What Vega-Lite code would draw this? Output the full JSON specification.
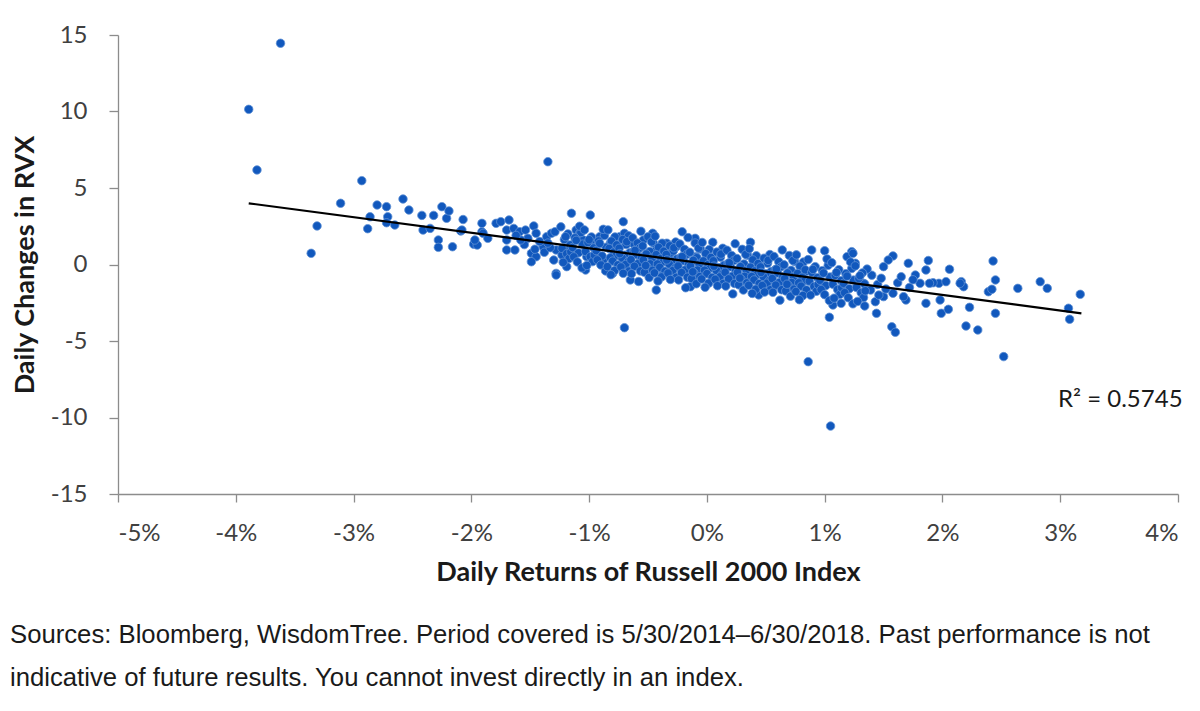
{
  "$schema": "https://vega.github.io/schema/vega-lite/v6.json",
  "width": 1060,
  "height": 459,
  "autosize": {"type": "none"},
  "padding": {"left": 118, "top": 35, "right": 22, "bottom": 217},
  "background": "white",
  "datasets": {
    "returns": [
      {"ret":-3.89,"chg":10.14},{"ret":-3.62,"chg":14.46},{"ret":-3.82,"chg":6.18},{"ret":-3.36,"chg":0.73},{"ret":-3.31,"chg":2.52},{"ret":-3.11,"chg":4.0},{"ret":-2.93,"chg":5.48},{"ret":-2.88,"chg":2.34},{"ret":-2.86,"chg":3.12},{"ret":-2.8,"chg":3.89},
      {"ret":-2.72,"chg":3.78},{"ret":-2.71,"chg":3.12},{"ret":-2.72,"chg":2.73},{"ret":-2.65,"chg":2.58},{"ret":-2.58,"chg":4.28},{"ret":-2.53,"chg":3.56},{"ret":-2.42,"chg":3.21},{"ret":-2.41,"chg":2.25},{"ret":-2.35,"chg":2.36},{"ret":-2.32,"chg":3.21},
      {"ret":-2.28,"chg":1.6},{"ret":-2.28,"chg":1.12},{"ret":-2.25,"chg":3.78},{"ret":-2.21,"chg":3.02},{"ret":-2.19,"chg":3.5},{"ret":-2.16,"chg":1.16},{"ret":-2.09,"chg":2.19},{"ret":-2.07,"chg":2.94},{"ret":-2.08,"chg":2.25},{"ret":-1.98,"chg":1.33},
      {"ret":-1.95,"chg":1.27},{"ret":-1.97,"chg":1.6},{"ret":-1.91,"chg":2.69},{"ret":-1.91,"chg":2.14},{"ret":-1.9,"chg":2.04},{"ret":-1.86,"chg":1.71},{"ret":-1.79,"chg":2.69},{"ret":-1.75,"chg":2.8},{"ret":-1.68,"chg":2.91},{"ret":-1.7,"chg":2.25},
      {"ret":-1.64,"chg":2.36},{"ret":-1.7,"chg":1.6},{"ret":-1.7,"chg":0.95},{"ret":-1.63,"chg":0.95},{"ret":-1.59,"chg":2.14},{"ret":-1.54,"chg":2.25},{"ret":-1.52,"chg":1.71},{"ret":-1.47,"chg":2.52},{"ret":-1.45,"chg":2.04},{"ret":-1.49,"chg":0.73},
      {"ret":-1.45,"chg":0.51},{"ret":-1.49,"chg":0.18},{"ret":-1.39,"chg":1.16},{"ret":-1.36,"chg":1.82},{"ret":-1.35,"chg":6.72},{"ret":-1.32,"chg":2.04},{"ret":-1.29,"chg":2.14},{"ret":-1.28,"chg":0.95},{"ret":-1.3,"chg":0.29},{"ret":-1.28,"chg":-0.58},
      {"ret":-1.28,"chg":-0.69},{"ret":-1.23,"chg":0.62},{"ret":-1.19,"chg":0.95},{"ret":-1.19,"chg":-0.14},{"ret":-1.15,"chg":3.35},{"ret":-1.11,"chg":2.25},{"ret":-1.08,"chg":2.04},{"ret":-1.05,"chg":1.6},{"ret":-1.03,"chg":-0.36},{"ret":-1.02,"chg":0.51},
      {"ret":-0.99,"chg":3.23},{"ret":-0.97,"chg":1.6},{"ret":-0.94,"chg":0.95},{"ret":-0.91,"chg":1.82},{"ret":-0.88,"chg":0.29},{"ret":-0.82,"chg":1.39},{"ret":-0.8,"chg":-0.58},{"ret":-0.77,"chg":0.95},{"ret":-0.74,"chg":1.82},{"ret":-0.71,"chg":2.8},
      {"ret":-0.7,"chg":2.04},{"ret":-0.7,"chg":-4.13},{"ret":-0.68,"chg":0.29},{"ret":-0.65,"chg":-1.01},{"ret":-0.63,"chg":1.39},{"ret":-0.6,"chg":0.95},{"ret":-0.57,"chg":0.51},{"ret":-0.54,"chg":1.6},{"ret":-0.51,"chg":-0.36},{"ret":-0.46,"chg":2.04},
      {"ret":-0.43,"chg":0.95},{"ret":-0.43,"chg":-1.67},{"ret":-0.37,"chg":-0.58},{"ret":-0.34,"chg":1.39},{"ret":-0.31,"chg":0.73},{"ret":-0.26,"chg":1.16},{"ret":-0.21,"chg":2.14},{"ret":-0.2,"chg":0.29},{"ret":-0.17,"chg":-0.58},{"ret":-0.14,"chg":-1.45},
      {"ret":-0.1,"chg":1.71},{"ret":-0.09,"chg":0.51},{"ret":-0.07,"chg":-0.8},{"ret":0.05,"chg":1.45},{"ret":0.37,"chg":1.45},{"ret":0.44,"chg":-1.99},{"ret":0.8,"chg":-2.1},{"ret":0.86,"chg":-6.35},{"ret":0.89,"chg":0.95},{"ret":1.0,"chg":0.9},
      {"ret":1.04,"chg":-3.45},{"ret":1.07,"chg":-2.65},{"ret":1.14,"chg":-2.54},{"ret":1.05,"chg":-10.56},{"ret":1.23,"chg":0.84},{"ret":1.19,"chg":0.51},{"ret":1.44,"chg":-3.19},{"ret":1.57,"chg":-4.07},{"ret":1.6,"chg":-4.43},{"ret":1.58,"chg":0.56},
      {"ret":1.54,"chg":0.29},{"ret":1.71,"chg":0.08},{"ret":1.88,"chg":0.26},{"ret":1.86,"chg":-0.36},{"ret":1.86,"chg":-2.54},{"ret":1.98,"chg":-2.32},{"ret":1.99,"chg":-3.19},{"ret":2.05,"chg":-2.93},{"ret":2.06,"chg":-0.31},{"ret":2.2,"chg":-4.02},
      {"ret":2.3,"chg":-4.28},{"ret":2.23,"chg":-2.8},{"ret":2.16,"chg":-1.12},{"ret":2.18,"chg":-1.45},{"ret":2.15,"chg":-1.23},{"ret":2.43,"chg":0.23},{"ret":2.45,"chg":-1.01},{"ret":2.39,"chg":-1.78},{"ret":2.42,"chg":-1.62},{"ret":2.45,"chg":-3.19},
      {"ret":2.52,"chg":-6.02},{"ret":2.64,"chg":-1.56},{"ret":2.83,"chg":-1.12},{"ret":2.89,"chg":-1.56},{"ret":3.07,"chg":-2.86},{"ret":3.08,"chg":-3.58},{"ret":3.17,"chg":-1.95},{"ret":1.97,"chg":-1.23},{"ret":1.92,"chg":-1.19},{"ret":1.77,"chg":-0.69},
      {"ret":1.81,"chg":-1.23},{"ret":1.69,"chg":-2.32},{"ret":1.67,"chg":-2.1},{"ret":1.89,"chg":-1.23},{"ret":2.03,"chg":-1.12},{"ret":1.5,"chg":-0.14},{"ret":1.43,"chg":-2.43},{"ret":1.34,"chg":-2.71},{"ret":1.24,"chg":0.73},{"ret":1.26,"chg":0.08},
      {"ret":1.33,"chg":-1.23},{"ret":1.39,"chg":-1.67},{"ret":1.5,"chg":-2.1},{"ret":1.58,"chg":-1.88},{"ret":1.45,"chg":-1.3},{"ret":1.48,"chg":-0.9},{"ret":1.52,"chg":-1.6},{"ret":1.62,"chg":-1.2},{"ret":1.65,"chg":-0.8},{"ret":1.72,"chg":-1.5},
      {"ret":1.75,"chg":-1.0},{"ret":1.4,"chg":-0.7},{"ret":1.36,"chg":-0.3},{"ret":1.46,"chg":-2.0},{"ret":-1.55,"chg":1.3},{"ret":-1.42,"chg":1.5},{"ret":-1.38,"chg":0.8},{"ret":-1.33,"chg":1.1},{"ret":-1.58,"chg":1.6},{"ret":-1.46,"chg":1.0},
      {"ret":-1.62,"chg":1.9},{"ret":-1.35,"chg":1.4},
      {"ret":-1.24,"chg":2.46},{"ret":-1.18,"chg":2.0},{"ret":-1.21,"chg":1.63},{"ret":-1.16,"chg":1.28},{"ret":-1.23,"chg":1.05},{"ret":-1.19,"chg":0.71},{"ret":-1.17,"chg":0.39},{"ret":-1.22,"chg":0.14},{"ret":-1.2,"chg":1.82},{"ret":-1.155,"chg":0.83},
      {"ret":-1.07,"chg":2.09},{"ret":-1.12,"chg":1.74},{"ret":-1.055,"chg":1.33},{"ret":-1.14,"chg":1.11},{"ret":-1.09,"chg":0.76},{"ret":-1.13,"chg":0.5},{"ret":-1.1,"chg":0.17},{"ret":-1.06,"chg":-0.22},{"ret":-1.11,"chg":1.58},{"ret":-1.08,"chg":2.5},
      {"ret":-1.04,"chg":2.26},{"ret":-0.98,"chg":1.8},{"ret":-1.01,"chg":1.43},{"ret":-0.96,"chg":1.08},{"ret":-1.03,"chg":0.85},{"ret":-0.99,"chg":0.51},{"ret":-0.97,"chg":0.19},{"ret":-1.02,"chg":-0.06},{"ret":-1.0,"chg":1.62},{"ret":-0.955,"chg":0.62},
      {"ret":-0.87,"chg":1.89},{"ret":-0.92,"chg":1.54},{"ret":-0.855,"chg":1.12},{"ret":-0.94,"chg":0.91},{"ret":-0.89,"chg":0.56},{"ret":-0.93,"chg":0.3},{"ret":-0.9,"chg":-0.03},{"ret":-0.86,"chg":-0.42},{"ret":-0.91,"chg":1.38},{"ret":-0.88,"chg":2.3},
      {"ret":-0.84,"chg":2.26},{"ret":-0.78,"chg":1.8},{"ret":-0.81,"chg":1.53},{"ret":-0.76,"chg":1.18},{"ret":-0.83,"chg":1.05},{"ret":-0.79,"chg":0.81},{"ret":-0.77,"chg":0.59},{"ret":-0.82,"chg":0.44},{"ret":-0.8,"chg":0.22},{"ret":-0.755,"chg":-0.03},{"ret":-0.845,"chg":-0.14},{"ret":-0.785,"chg":-0.4},{"ret":-0.815,"chg":-0.67},{"ret":-0.765,"chg":1.28},
      {"ret":-0.665,"chg":1.88},{"ret":-0.715,"chg":1.63},{"ret":-0.685,"chg":1.3},{"ret":-0.745,"chg":1.06},{"ret":-0.655,"chg":0.77},{"ret":-0.7,"chg":0.61},{"ret":-0.72,"chg":0.43},{"ret":-0.67,"chg":0.18},{"ret":-0.69,"chg":0.0},{"ret":-0.73,"chg":-0.16},{"ret":-0.66,"chg":-0.43},{"ret":-0.71,"chg":-0.58},{"ret":-0.68,"chg":1.49},{"ret":-0.74,"chg":0.71},
      {"ret":-0.56,"chg":2.17},{"ret":-0.63,"chg":1.74},{"ret":-0.59,"chg":1.4},{"ret":-0.57,"chg":1.08},{"ret":-0.62,"chg":0.88},{"ret":-0.6,"chg":0.66},{"ret":-0.555,"chg":0.42},{"ret":-0.645,"chg":0.31},{"ret":-0.585,"chg":0.05},{"ret":-0.615,"chg":-0.12},{"ret":-0.565,"chg":-0.42},{"ret":-0.64,"chg":-0.6},{"ret":-0.58,"chg":-1.11},{"ret":-0.61,"chg":0.92},
      {"ret":-0.5,"chg":1.81},{"ret":-0.455,"chg":1.41},{"ret":-0.545,"chg":1.21},{"ret":-0.485,"chg":0.85},{"ret":-0.515,"chg":0.68},{"ret":-0.465,"chg":0.42},{"ret":-0.54,"chg":0.3},{"ret":-0.48,"chg":0.04},{"ret":-0.51,"chg":-0.13},{"ret":-0.46,"chg":-0.38},{"ret":-0.53,"chg":-0.51},{"ret":-0.49,"chg":-0.85},{"ret":-0.47,"chg":1.48},{"ret":-0.52,"chg":-0.07},
      {"ret":-0.44,"chg":1.85},{"ret":-0.38,"chg":1.39},{"ret":-0.41,"chg":1.12},{"ret":-0.36,"chg":0.77},{"ret":-0.43,"chg":0.64},{"ret":-0.39,"chg":0.4},{"ret":-0.37,"chg":0.18},{"ret":-0.42,"chg":0.03},{"ret":-0.4,"chg":-0.19},{"ret":-0.355,"chg":-0.44},{"ret":-0.445,"chg":-0.55},{"ret":-0.385,"chg":-0.81},{"ret":-0.415,"chg":-1.08},{"ret":-0.365,"chg":0.87},
      {"ret":-0.265,"chg":1.47},{"ret":-0.315,"chg":1.22},{"ret":-0.285,"chg":0.89},{"ret":-0.345,"chg":0.65},{"ret":-0.255,"chg":0.36},{"ret":-0.3,"chg":0.21},{"ret":-0.32,"chg":0.03},{"ret":-0.27,"chg":-0.23},{"ret":-0.29,"chg":-0.4},{"ret":-0.33,"chg":-0.56},{"ret":-0.26,"chg":-0.84},{"ret":-0.31,"chg":-0.98},{"ret":-0.28,"chg":1.09},{"ret":-0.34,"chg":0.3},
      {"ret":-0.16,"chg":1.76},{"ret":-0.23,"chg":1.34},{"ret":-0.19,"chg":0.99},{"ret":-0.17,"chg":0.67},{"ret":-0.22,"chg":0.47},{"ret":-0.2,"chg":0.25},{"ret":-0.155,"chg":0.01},{"ret":-0.245,"chg":-0.1},{"ret":-0.185,"chg":-0.36},{"ret":-0.215,"chg":-0.53},{"ret":-0.165,"chg":-0.83},{"ret":-0.24,"chg":-1.01},{"ret":-0.18,"chg":-1.52},{"ret":-0.21,"chg":0.51},
      {"ret":-0.1,"chg":1.4},{"ret":-0.055,"chg":1.01},{"ret":-0.145,"chg":0.8},{"ret":-0.085,"chg":0.44},{"ret":-0.115,"chg":0.27},{"ret":-0.065,"chg":0.02},{"ret":-0.14,"chg":-0.11},{"ret":-0.08,"chg":-0.37},{"ret":-0.11,"chg":-0.54},{"ret":-0.06,"chg":-0.79},{"ret":-0.13,"chg":-0.92},{"ret":-0.09,"chg":-1.26},{"ret":-0.07,"chg":1.07},{"ret":-0.12,"chg":-0.48},
      {"ret":-0.04,"chg":1.44},{"ret":0.02,"chg":0.98},{"ret":-0.01,"chg":0.71},{"ret":0.04,"chg":0.36},{"ret":-0.03,"chg":0.23},{"ret":0.01,"chg":-0.01},{"ret":0.03,"chg":-0.23},{"ret":-0.02,"chg":-0.38},{"ret":0.0,"chg":-0.6},{"ret":0.045,"chg":-0.85},{"ret":-0.045,"chg":-0.95},{"ret":0.015,"chg":-1.22},{"ret":-0.015,"chg":-1.49},{"ret":0.035,"chg":0.46},
      {"ret":0.135,"chg":1.06},{"ret":0.085,"chg":0.81},{"ret":0.115,"chg":0.48},{"ret":0.055,"chg":0.24},{"ret":0.145,"chg":-0.05},{"ret":0.1,"chg":-0.2},{"ret":0.08,"chg":-0.38},{"ret":0.13,"chg":-0.63},{"ret":0.11,"chg":-0.81},{"ret":0.07,"chg":-0.97},{"ret":0.14,"chg":-1.24},{"ret":0.09,"chg":-1.39},{"ret":0.12,"chg":0.68},{"ret":0.06,"chg":-0.11},
      {"ret":0.24,"chg":1.36},{"ret":0.17,"chg":0.93},{"ret":0.21,"chg":0.59},{"ret":0.23,"chg":0.27},{"ret":0.18,"chg":0.07},{"ret":0.2,"chg":-0.15},{"ret":0.245,"chg":-0.4},{"ret":0.155,"chg":-0.51},{"ret":0.215,"chg":-0.77},{"ret":0.185,"chg":-0.94},{"ret":0.235,"chg":-1.24},{"ret":0.16,"chg":-1.41},{"ret":0.22,"chg":-1.92},{"ret":0.19,"chg":0.11},
      {"ret":0.3,"chg":0.99},{"ret":0.345,"chg":0.6},{"ret":0.255,"chg":0.39},{"ret":0.315,"chg":0.03},{"ret":0.285,"chg":-0.14},{"ret":0.335,"chg":-0.39},{"ret":0.26,"chg":-0.52},{"ret":0.32,"chg":-0.78},{"ret":0.29,"chg":-0.95},{"ret":0.34,"chg":-1.2},{"ret":0.27,"chg":-1.33},{"ret":0.31,"chg":-1.67},{"ret":0.33,"chg":0.66},{"ret":0.28,"chg":-0.89},
      {"ret":0.36,"chg":1.03},{"ret":0.42,"chg":0.57},{"ret":0.39,"chg":0.3},{"ret":0.44,"chg":-0.05},{"ret":0.37,"chg":-0.18},{"ret":0.41,"chg":-0.42},{"ret":0.43,"chg":-0.64},{"ret":0.38,"chg":-0.79},{"ret":0.4,"chg":-1.01},{"ret":0.445,"chg":-1.25},{"ret":0.355,"chg":-1.36},{"ret":0.415,"chg":-1.62},{"ret":0.385,"chg":-1.89},{"ret":0.435,"chg":0.06},
      {"ret":0.535,"chg":0.65},{"ret":0.485,"chg":0.41},{"ret":0.515,"chg":0.08},{"ret":0.455,"chg":-0.16},{"ret":0.545,"chg":-0.46},{"ret":0.5,"chg":-0.61},{"ret":0.48,"chg":-0.79},{"ret":0.53,"chg":-1.04},{"ret":0.51,"chg":-1.22},{"ret":0.47,"chg":-1.38},{"ret":0.54,"chg":-1.65},{"ret":0.49,"chg":-1.8},{"ret":0.52,"chg":0.27},{"ret":0.46,"chg":-0.52},
      {"ret":0.64,"chg":0.95},{"ret":0.57,"chg":0.52},{"ret":0.61,"chg":0.18},{"ret":0.63,"chg":-0.14},{"ret":0.58,"chg":-0.34},{"ret":0.6,"chg":-0.56},{"ret":0.645,"chg":-0.81},{"ret":0.555,"chg":-0.92},{"ret":0.615,"chg":-1.18},{"ret":0.585,"chg":-1.35},{"ret":0.635,"chg":-1.65},{"ret":0.56,"chg":-1.82},{"ret":0.62,"chg":-2.33},{"ret":0.59,"chg":-0.3},
      {"ret":0.7,"chg":0.59},{"ret":0.745,"chg":0.19},{"ret":0.655,"chg":-0.02},{"ret":0.715,"chg":-0.38},{"ret":0.685,"chg":-0.55},{"ret":0.735,"chg":-0.8},{"ret":0.66,"chg":-0.92},{"ret":0.72,"chg":-1.18},{"ret":0.69,"chg":-1.35},{"ret":0.74,"chg":-1.61},{"ret":0.67,"chg":-1.73},{"ret":0.71,"chg":-2.07},{"ret":0.73,"chg":0.26},{"ret":0.68,"chg":-1.29},
      {"ret":0.76,"chg":0.63},{"ret":0.82,"chg":0.16},{"ret":0.79,"chg":-0.11},{"ret":0.84,"chg":-0.46},{"ret":0.77,"chg":-0.59},{"ret":0.81,"chg":-0.83},{"ret":0.83,"chg":-1.05},{"ret":0.78,"chg":-1.2},{"ret":0.8,"chg":-1.42},{"ret":0.845,"chg":-1.66},{"ret":0.755,"chg":-1.77},{"ret":0.815,"chg":-2.03},{"ret":0.785,"chg":-2.3},{"ret":0.835,"chg":-0.35},
      {"ret":0.86,"chg":0.32},{"ret":0.92,"chg":-0.14},{"ret":0.89,"chg":-0.51},{"ret":0.94,"chg":-0.86},{"ret":0.87,"chg":-1.09},{"ret":0.91,"chg":-1.43},{"ret":0.93,"chg":-1.75},{"ret":0.88,"chg":-2.0},{"ret":0.9,"chg":-0.32},{"ret":0.945,"chg":-1.31},
      {"ret":1.03,"chg":-0.05},{"ret":0.98,"chg":-0.4},{"ret":1.045,"chg":-0.82},{"ret":0.96,"chg":-1.03},{"ret":1.01,"chg":-1.38},{"ret":0.97,"chg":-1.64},{"ret":1.0,"chg":-1.97},{"ret":1.04,"chg":-2.36},{"ret":0.99,"chg":-0.56},{"ret":1.02,"chg":0.36},
      {"ret":1.06,"chg":0.12},{"ret":1.12,"chg":-0.34},{"ret":1.09,"chg":-0.71},{"ret":1.14,"chg":-1.06},{"ret":1.07,"chg":-1.29},{"ret":1.11,"chg":-1.63},{"ret":1.13,"chg":-1.95},{"ret":1.08,"chg":-2.2},{"ret":1.1,"chg":-0.52},{"ret":1.145,"chg":-1.52},
      {"ret":1.23,"chg":-0.26},{"ret":1.18,"chg":-0.6},{"ret":1.245,"chg":-1.02},{"ret":1.16,"chg":-1.23},{"ret":1.21,"chg":-1.58},{"ret":1.17,"chg":-1.84},{"ret":1.2,"chg":-2.17},{"ret":1.24,"chg":-2.57},{"ret":1.19,"chg":-0.76},{"ret":1.22,"chg":0.16},
      {"ret":1.26,"chg":-0.09},{"ret":1.32,"chg":-0.55},{"ret":1.29,"chg":-0.92},{"ret":1.34,"chg":-1.27},{"ret":1.27,"chg":-1.5},{"ret":1.31,"chg":-1.84},{"ret":1.33,"chg":-2.16},{"ret":1.28,"chg":-2.41},{"ret":1.3,"chg":-0.73},{"ret":1.345,"chg":-1.72}
    ],
    "trend": [
      {"ret":-3.89,"chg":4.0},
      {"ret":3.18,"chg":-3.19}
    ],
    "note": [
      {"ret":3.51,"chg":-8.86,"label":"R² = 0.5745"}
    ]
  },
  "title": {
    "text": [
      "Sources: Bloomberg, WisdomTree. Period covered is 5/30/2014–6/30/2018. Past performance is not",
      "indicative of future results. You cannot invest directly in an index."
    ],
    "orient": "bottom",
    "anchor": "start",
    "frame": "group",
    "dx": -108,
    "offset": 38,
    "font": "Liberation Sans",
    "fontSize": 25.7,
    "fontWeight": "normal",
    "color": "#1a1a1a",
    "lineHeight": 43
  },
  "encoding": {
    "x": {
      "field": "ret",
      "type": "quantitative",
      "scale": {"domain": [-5, 4], "nice": false, "zero": false},
      "axis": {
        "title": "Daily Returns of Russell 2000 Index",
        "values": [-5, -4, -3, -2, -1, 0, 1, 2, 3, 4],
        "labelExpr": "datum.value + '%'",
        "tickSize": 8,
        "labelPadding": 19,
        "titlePadding": 14
      }
    },
    "y": {
      "field": "chg",
      "type": "quantitative",
      "scale": {"domain": [-15, 15], "nice": false},
      "axis": {
        "title": "Daily Changes in RVX",
        "values": [-15, -10, -5, 0, 5, 10, 15],
        "labelExpr": "'' + datum.value",
        "tickSize": 9,
        "labelPadding": 22,
        "titlePadding": 11
      }
    }
  },
  "layer": [
    {
      "data": {"name": "returns"},
      "mark": {"type": "circle", "size": 72, "fill": "#1158BD", "stroke": "#6090D4", "strokeWidth": 0.8, "opacity": 1}
    },
    {
      "data": {"name": "trend"},
      "mark": {"type": "line", "color": "#000000", "strokeWidth": 2.2}
    },
    {
      "data": {"name": "note"},
      "mark": {"type": "text", "font": "Lato", "fontSize": 24, "color": "#1a1a1a", "align": "center", "baseline": "middle"},
      "encoding": {"text": {"field": "label"}}
    }
  ],
  "config": {
    "view": {"stroke": null},
    "axis": {
      "grid": false,
      "domainColor": "#8c8c8c",
      "tickColor": "#8c8c8c",
      "domainWidth": 1.3,
      "tickWidth": 1.3,
      "labelFont": "Lato",
      "labelFontSize": 24,
      "labelColor": "#404040",
      "titleFont": "Lato",
      "titleFontSize": 27,
      "titleFontWeight": "bold",
      "titleColor": "#1a1a1a"
    }
  }
}
